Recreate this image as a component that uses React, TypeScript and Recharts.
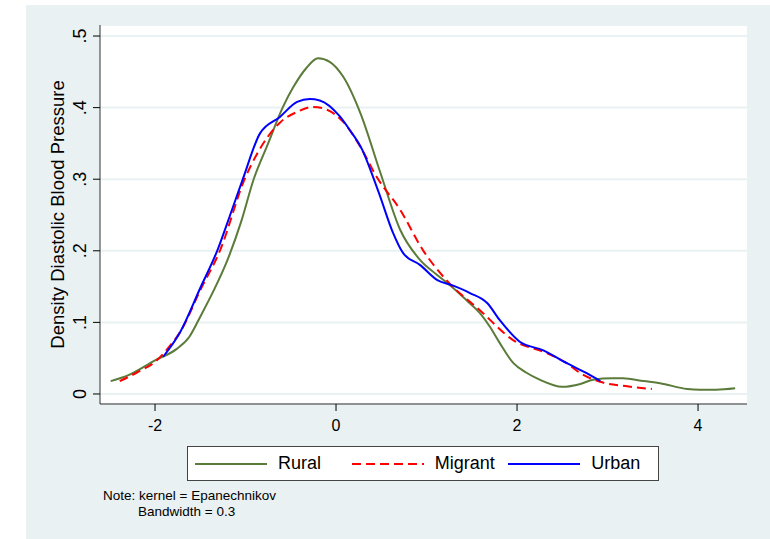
import { ComposedChart, Line, XAxis, YAxis, CartesianGrid, Label } from "recharts";

// kernel density estimates, standardised diastolic blood pressure
const ruralX = [-2.49, -2.3, -2.0, -1.76, -1.62, -1.5, -1.35, -1.2, -1.05, -0.91, -0.75, -0.59, -0.47, -0.33, -0.2, -0.07, 0.08, 0.27, 0.49, 0.71, 0.93, 1.1, 1.26, 1.45, 1.59, 1.7, 1.81, 1.96, 2.1, 2.25, 2.5, 2.7, 2.84, 3.05, 3.17, 3.4, 3.58, 3.88, 4.02, 4.2, 4.41];
const ruralY = [0.018, 0.026, 0.047, 0.063, 0.08, 0.108, 0.145, 0.187, 0.24, 0.3, 0.35, 0.4, 0.429, 0.455, 0.469, 0.464, 0.443, 0.392, 0.309, 0.229, 0.187, 0.168, 0.152, 0.13, 0.113, 0.094, 0.071, 0.043, 0.03, 0.02, 0.01, 0.014, 0.02, 0.022, 0.022, 0.018, 0.015, 0.007, 0.006, 0.006, 0.008];

const migrantX = [-2.39, -2.2, -1.98, -1.85, -1.72, -1.5, -1.28, -1.01, -0.87, -0.62, -0.43, -0.25, -0.1, 0.08, 0.27, 0.45, 0.71, 0.96, 1.22, 1.59, 1.96, 2.33, 2.55, 2.7, 2.92, 3.2, 3.49];
const migrantY = [0.018, 0.03, 0.047, 0.065, 0.087, 0.145, 0.201, 0.3, 0.336, 0.379, 0.394, 0.401, 0.397, 0.38, 0.345, 0.303, 0.257, 0.201, 0.159, 0.117, 0.075, 0.057, 0.043, 0.029, 0.017, 0.011, 0.007];

const urbanX = [-1.91, -1.72, -1.5, -1.31, -1.17, -1.03, -0.84, -0.62, -0.43, -0.29, -0.18, 0.04, 0.15, 0.29, 0.41, 0.49, 0.63, 0.74, 0.93, 1.12, 1.28, 1.48, 1.67, 1.81, 2.03, 2.29, 2.55, 2.77, 2.92];
const urbanY = [0.052, 0.087, 0.148, 0.201, 0.25, 0.3, 0.364, 0.387, 0.408, 0.412, 0.41, 0.388, 0.369, 0.341, 0.303, 0.275, 0.225, 0.197, 0.18, 0.159, 0.152, 0.141, 0.127, 0.103, 0.073, 0.061, 0.043, 0.029, 0.018];

const xTicks = [-2, 0, 2, 4];
const yTicks = [0, 0.1, 0.2, 0.3, 0.4, 0.5];
const yTickLabels = ["0", ".1", ".2", ".3", ".4", ".5"];

const toPoints = (xs: number[], ys: number[]) => xs.map((x, i) => ({ x, y: ys[i] }));

const series = [
  { name: "Rural", color: "#5B7B3A", dash: undefined, data: toPoints(ruralX, ruralY) },
  { name: "Migrant", color: "#FF0000", dash: "9 5", data: toPoints(migrantX, migrantY) },
  { name: "Urban", color: "#0000FF", dash: undefined, data: toPoints(urbanX, urbanY) },
];

const FONT = "'Liberation Sans', Arial, sans-serif";
const BG = "#EAF1F3";

const YTick = (props: any) => {
  const { x, y, payload } = props;
  const i = yTicks.indexOf(payload.value);
  const bx = x - 5;
  return (
    <text
      x={bx}
      y={y}
      transform={`rotate(-90, ${bx}, ${y})`}
      textAnchor="middle"
      fontSize={18}
      fontFamily={FONT}
      fill="#000"
    >
      {i >= 0 ? yTickLabels[i] : payload.value}
    </text>
  );
};

const YTitle = (props: any) => {
  const { viewBox } = props;
  const bx = viewBox.x + 38;
  const cy = viewBox.y + viewBox.height / 2;
  return (
    <text
      x={bx}
      y={cy}
      transform={`rotate(-90, ${bx}, ${cy})`}
      textAnchor="middle"
      fontSize={18.5}
      fontFamily={FONT}
      fill="#000"
    >
      Density Diastolic Blood Pressure
    </text>
  );
};

const LegendBox = () => (
  <div
    style={{
      position: "absolute",
      left: 187,
      top: 446,
      width: 472,
      height: 35,
      background: "#fff",
      border: "1px solid #444",
      display: "flex",
      alignItems: "center",
      fontFamily: FONT,
      fontSize: 18,
      color: "#000",
      boxSizing: "border-box",
    }}
  >
    {series.map((s) => (
      <div key={s.name} style={{ display: "flex", alignItems: "center", marginLeft: 7, width: 152 }}>
        <svg width={72} height={4}>
          <line x1={0} y1={2} x2={72} y2={2} stroke={s.color} strokeWidth={2} strokeDasharray={s.dash} />
        </svg>
        <span style={{ marginLeft: 11 }}>{s.name}</span>
      </div>
    ))}
  </div>
);

export default function App() {
  return (
    <div style={{ position: "absolute", left: 0, top: 0, width: 770, height: 539, background: "#fff" }}>
      <div style={{ position: "absolute", left: 26, top: 5, width: 744, height: 534, background: BG }} />
      <div style={{ position: "absolute", left: 100, top: 25, width: 647, height: 379, background: "#fff" }} />
      <ComposedChart
        width={770}
        height={539}
        margin={{ top: 25, right: 23, left: 26, bottom: 105 }}
        style={{ position: "absolute", left: 0, top: 0 }}
      >
        <CartesianGrid vertical={false} stroke={BG} strokeWidth={2} />
        <XAxis
          dataKey="x"
          type="number"
          domain={[-2.608, 4.541]}
          ticks={xTicks}
          allowDataOverflow
          height={30}
          tickSize={7}
          tickMargin={9}
          tick={{ fontSize: 16, fontFamily: FONT, fill: "#000" }}
          axisLine={{ stroke: "#333" }}
          tickLine={{ stroke: "#000" }}
        />
        <YAxis
          dataKey="y"
          type="number"
          domain={[-0.014, 0.5154]}
          ticks={yTicks}
          allowDataOverflow
          width={74}
          tickSize={7}
          tickMargin={2}
          tick={<YTick />}
          axisLine={{ stroke: "#333" }}
          tickLine={{ stroke: "#000" }}
        >
          <Label content={<YTitle />} />
        </YAxis>
        {series.map((s) => (
          <Line
            key={s.name}
            data={s.data}
            dataKey="y"
            name={s.name}
            type="monotone"
            stroke={s.color}
            strokeWidth={2}
            strokeDasharray={s.dash}
            dot={false}
            isAnimationActive={false}
          />
        ))}
      </ComposedChart>
      <LegendBox />
      <div
        style={{
          position: "absolute",
          left: 103,
          top: 488,
          fontFamily: FONT,
          fontSize: 13.5,
          lineHeight: "16px",
          color: "#000",
        }}
      >
        <div>Note: kernel = Epanechnikov</div>
        <div style={{ paddingLeft: 35 }}>Bandwidth = 0.3</div>
      </div>
    </div>
  );
}
